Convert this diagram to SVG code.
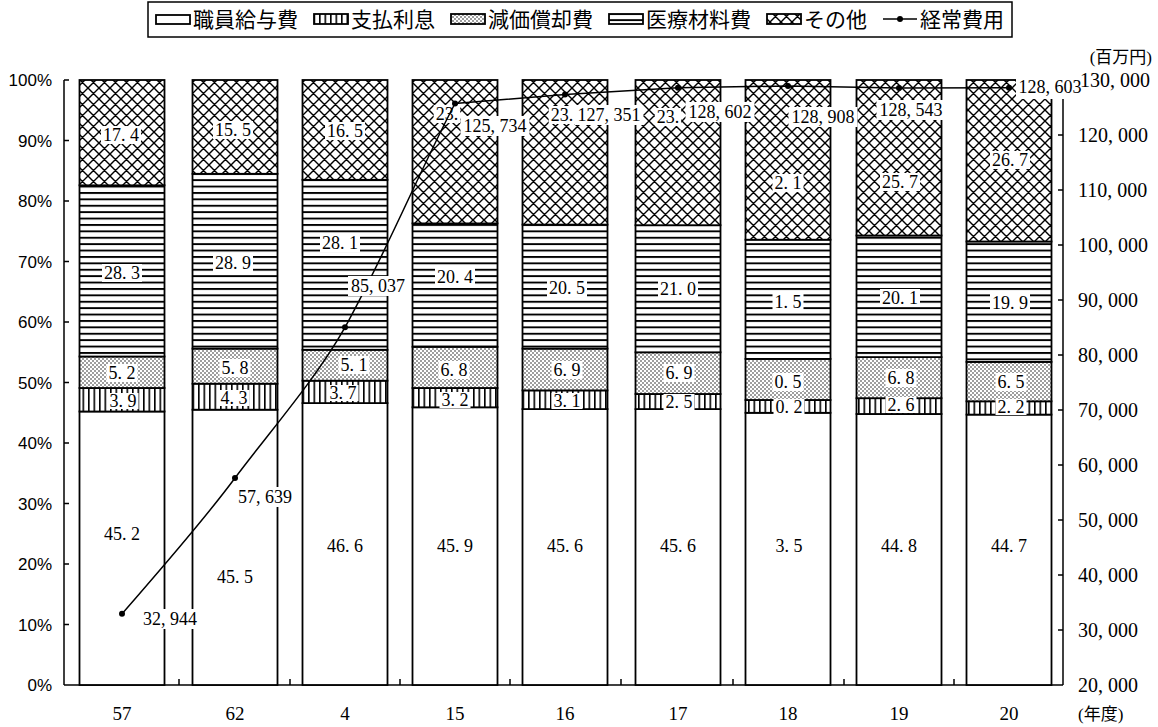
<svg xmlns="http://www.w3.org/2000/svg" width="1158" height="727" viewBox="0 0 1158 727">
<defs>
<style>
.bar{stroke:#000;stroke-width:1.8}
.w{fill:#fff}.v{fill:url(#pv)}.d{fill:url(#pd)}.h{fill:url(#ph)}.c{fill:url(#pc)}
.n{font-family:"Liberation Serif",serif;font-size:18px;text-anchor:middle;fill:#000}
.bg{fill:#fff}
.ax{stroke:#000;stroke-width:1.5;fill:none}
.lt{font-family:"Liberation Sans",sans-serif;font-size:17px;text-anchor:end}
.rt{font-family:"Liberation Serif",serif;font-size:20px}
.xt{font-family:"Liberation Serif",serif;font-size:19px;text-anchor:middle}
.jp{font-family:"Liberation Serif","Noto Sans CJK JP",sans-serif;font-size:21px}
.jp2{font-family:"Liberation Serif","Noto Sans CJK JP",sans-serif;font-size:17px}
</style>
<pattern id="pv" patternUnits="userSpaceOnUse" width="5.5" height="10"><rect width="5.5" height="10" fill="#fff"/><rect x="0" width="1.6" height="10" fill="#000"/></pattern>
<pattern id="ph" patternUnits="userSpaceOnUse" width="10" height="6.4"><rect width="10" height="6.4" fill="#fff"/><rect y="0" width="10" height="1.9" fill="#000"/></pattern>
<pattern id="pd" patternUnits="userSpaceOnUse" width="4" height="4"><rect width="4" height="4" fill="#fff"/><circle cx="1" cy="1" r="0.8" fill="#222"/><circle cx="3" cy="3" r="0.8" fill="#222"/></pattern>
<pattern id="pc" patternUnits="userSpaceOnUse" width="11" height="11"><rect width="11" height="11" fill="#fff"/><path d="M0 0L11 11M11 0L0 11M-1 10L1 12M10 -1L12 1M-1 1L1 -1M10 12L12 10" stroke="#000" stroke-width="1.4"/></pattern>
</defs>
<rect width="1158" height="727" fill="#fff"/>

<g id="legend">
<rect x="148" y="2" width="864" height="35" fill="#fff" stroke="#000" stroke-width="1.5"/>
<rect x="156" y="15" width="34" height="9" class="bar w"/>
<text x="193" y="27" class="jp">職員給与費</text>
<rect x="314" y="14" width="34" height="10" class="bar v"/>
<text x="351" y="27" class="jp">支払利息</text>
<rect x="451" y="14" width="34" height="10" class="bar d"/>
<text x="488" y="27" class="jp">減価償却費</text>
<rect x="609" y="14" width="34" height="10" class="bar h"/>
<text x="646" y="27" class="jp">医療材料費</text>
<rect x="767" y="14" width="34" height="10" class="bar c"/>
<text x="804" y="27" class="jp">その他</text>
<line x1="883" y1="19" x2="917" y2="19" stroke="#000" stroke-width="1.5"/>
<circle cx="900" cy="19" r="3" fill="#000"/>
<text x="920" y="27" class="jp">経常費用</text>
</g>

<g id="axes">
<line x1="64" y1="80" x2="64" y2="685" class="ax"/>
<line x1="64" y1="685" x2="1063" y2="685" class="ax"/>
<line x1="1063" y1="80" x2="1063" y2="685" class="ax"/>
<path class="ax" d="M64 80h5M64 140.5h5M64 201h5M64 261.5h5M64 322h5M64 382.5h5M64 443h5M64 503.5h5M64 564h5M64 624.5h5"/>
<path class="ax" d="M1063 135h-5M1063 190h-5M1063 245h-5M1063 300h-5M1063 355h-5M1063 410h-5M1063 465h-5M1063 520h-5M1063 575h-5M1063 630h-5"/>
<path class="ax" d="M179 685v-6M290 685v-6M400 685v-6M510 685v-6M621 685v-6M733 685v-6M844 685v-6M954 685v-6"/>
<text x="52" y="86" class="lt">100%</text>
<text x="52" y="146.5" class="lt">90%</text>
<text x="52" y="207" class="lt">80%</text>
<text x="52" y="267.5" class="lt">70%</text>
<text x="52" y="328" class="lt">60%</text>
<text x="52" y="388.5" class="lt">50%</text>
<text x="52" y="449" class="lt">40%</text>
<text x="52" y="509.5" class="lt">30%</text>
<text x="52" y="570" class="lt">20%</text>
<text x="52" y="630.5" class="lt">10%</text>
<text x="52" y="691" class="lt">0%</text>
<text x="122" y="720" class="xt">57</text>
<text x="235" y="720" class="xt">62</text>
<text x="345" y="720" class="xt">4</text>
<text x="455" y="720" class="xt">15</text>
<text x="565" y="720" class="xt">16</text>
<text x="678" y="720" class="xt">17</text>
<text x="788" y="720" class="xt">18</text>
<text x="899" y="720" class="xt">19</text>
<text x="1009" y="720" class="xt">20</text>
<text x="1078" y="720" class="jp2">(年度)</text>
<text x="1152" y="63" class="jp2" text-anchor="end">(百万円)</text>
</g>

<g id="bar-57">
<rect x="79.5" y="411.5" width="85" height="273.5" class="bar w"/>
<rect x="79.5" y="388" width="85" height="23.5" class="bar v"/>
<rect x="79.5" y="356.5" width="85" height="31.5" class="bar d"/>
<rect x="79.5" y="185.3" width="85" height="171.2" class="bar h"/>
<rect x="79.5" y="80" width="85" height="105.3" class="bar c"/>
</g>
<g id="bar-62">
<rect x="192.5" y="409.7" width="85" height="275.3" class="bar w"/>
<rect x="192.5" y="383.7" width="85" height="26" class="bar v"/>
<rect x="192.5" y="348.6" width="85" height="35.1" class="bar d"/>
<rect x="192.5" y="173.8" width="85" height="174.8" class="bar h"/>
<rect x="192.5" y="80" width="85" height="93.8" class="bar c"/>
</g>
<g id="bar-4">
<rect x="302.5" y="403.1" width="85" height="281.9" class="bar w"/>
<rect x="302.5" y="380.7" width="85" height="22.4" class="bar v"/>
<rect x="302.5" y="349.8" width="85" height="30.9" class="bar d"/>
<rect x="302.5" y="179.8" width="85" height="170" class="bar h"/>
<rect x="302.5" y="80" width="85" height="99.8" class="bar c"/>
</g>
<g id="bar-15">
<rect x="412.5" y="407.3" width="85" height="277.7" class="bar w"/>
<rect x="412.5" y="388" width="85" height="19.3" class="bar v"/>
<rect x="412.5" y="346.8" width="85" height="41.2" class="bar d"/>
<rect x="412.5" y="223.4" width="85" height="123.4" class="bar h"/>
<rect x="412.5" y="80" width="85" height="143.4" class="bar c"/>
</g>
<g id="bar-16">
<rect x="522.5" y="409.1" width="85" height="275.9" class="bar w"/>
<rect x="522.5" y="390.4" width="85" height="18.7" class="bar v"/>
<rect x="522.5" y="348.6" width="85" height="41.8" class="bar d"/>
<rect x="522.5" y="224.6" width="85" height="124" class="bar h"/>
<rect x="522.5" y="80" width="85" height="144.6" class="bar c"/>
</g>
<g id="bar-17">
<rect x="635.5" y="409.1" width="85" height="275.9" class="bar w"/>
<rect x="635.5" y="394" width="85" height="15.1" class="bar v"/>
<rect x="635.5" y="352.3" width="85" height="41.7" class="bar d"/>
<rect x="635.5" y="225.2" width="85" height="127.1" class="bar h"/>
<rect x="635.5" y="80" width="85" height="145.2" class="bar c"/>
</g>
<g id="bar-18">
<rect x="745.5" y="412.8" width="85" height="272.2" class="bar w"/>
<rect x="745.5" y="400" width="85" height="12.8" class="bar v"/>
<rect x="745.5" y="358.9" width="85" height="41.1" class="bar d"/>
<rect x="745.5" y="239.7" width="85" height="119.2" class="bar h"/>
<rect x="745.5" y="80" width="85" height="159.7" class="bar c"/>
</g>
<g id="bar-19">
<rect x="856.5" y="414" width="85" height="271" class="bar w"/>
<rect x="856.5" y="398.2" width="85" height="15.8" class="bar v"/>
<rect x="856.5" y="357.1" width="85" height="41.1" class="bar d"/>
<rect x="856.5" y="235.5" width="85" height="121.6" class="bar h"/>
<rect x="856.5" y="80" width="85" height="155.5" class="bar c"/>
</g>
<g id="bar-20">
<rect x="966.5" y="414.6" width="85" height="270.4" class="bar w"/>
<rect x="966.5" y="401.3" width="85" height="13.3" class="bar v"/>
<rect x="966.5" y="361.9" width="85" height="39.4" class="bar d"/>
<rect x="966.5" y="241.5" width="85" height="120.4" class="bar h"/>
<rect x="966.5" y="80" width="85" height="161.5" class="bar c"/>
</g>

<g id="bar-labels">
<rect x="101" y="126" width="40" height="18" class="bg"/><text x="121" y="141" class="n">17. 4</text>
<rect x="213" y="121" width="40" height="18" class="bg"/><text x="233" y="136" class="n">15. 5</text>
<rect x="325" y="122" width="40" height="18" class="bg"/><text x="345" y="137" class="n">16. 5</text>
<rect x="433.7" y="105" width="26.5" height="18" class="bg"/><text x="447" y="120" class="n">23.</text>
<rect x="548.7" y="106" width="26.5" height="18" class="bg"/><text x="562" y="121" class="n">23.</text>
<rect x="654.7" y="108" width="26.5" height="18" class="bg"/><text x="668" y="123" class="n">23.</text>
<rect x="772.5" y="174" width="31" height="18" class="bg"/><text x="788" y="189" class="n">2. 1</text>
<rect x="880" y="173" width="40" height="18" class="bg"/><text x="900" y="188" class="n">25. 7</text>
<rect x="990" y="151" width="40" height="18" class="bg"/><text x="1010" y="166" class="n">26. 7</text>

<rect x="102" y="264" width="40" height="18" class="bg"/><text x="122" y="279" class="n">28. 3</text>
<rect x="213" y="254" width="40" height="18" class="bg"/><text x="233" y="269" class="n">28. 9</text>
<rect x="320" y="234" width="40" height="18" class="bg"/><text x="340" y="249" class="n">28. 1</text>
<rect x="435" y="268" width="40" height="18" class="bg"/><text x="455" y="283" class="n">20. 4</text>
<rect x="547" y="279" width="40" height="18" class="bg"/><text x="567" y="294" class="n">20. 5</text>
<rect x="658" y="280" width="40" height="18" class="bg"/><text x="678" y="295" class="n">21. 0</text>
<rect x="772.5" y="293" width="31" height="18" class="bg"/><text x="788" y="308" class="n">1. 5</text>
<rect x="880" y="289" width="40" height="18" class="bg"/><text x="900" y="304" class="n">20. 1</text>
<rect x="990" y="294" width="40" height="18" class="bg"/><text x="1010" y="309" class="n">19. 9</text>

<rect x="106.5" y="364" width="31" height="18" class="bg"/><text x="122" y="379" class="n">5. 2</text>
<rect x="219.5" y="359" width="31" height="18" class="bg"/><text x="235" y="374" class="n">5. 8</text>
<rect x="338.5" y="356" width="31" height="18" class="bg"/><text x="354" y="371" class="n">5. 1</text>
<rect x="438.5" y="361" width="31" height="18" class="bg"/><text x="454" y="376" class="n">6. 8</text>
<rect x="551.5" y="361" width="31" height="18" class="bg"/><text x="567" y="376" class="n">6. 9</text>
<rect x="663.5" y="364" width="31" height="18" class="bg"/><text x="679" y="379" class="n">6. 9</text>
<rect x="772.5" y="373" width="31" height="18" class="bg"/><text x="788" y="388" class="n">0. 5</text>
<rect x="885.5" y="369" width="31" height="18" class="bg"/><text x="901" y="384" class="n">6. 8</text>
<rect x="995.5" y="373" width="31" height="18" class="bg"/><text x="1011" y="388" class="n">6. 5</text>

<rect x="107.5" y="393" width="31" height="16" class="bg"/><text x="123" y="407" class="n">3. 9</text>
<rect x="218.5" y="390" width="31" height="16" class="bg"/><text x="234" y="404" class="n">4. 3</text>
<rect x="327.5" y="385" width="31" height="16" class="bg"/><text x="343" y="399" class="n">3. 7</text>
<rect x="439.5" y="392" width="31" height="16" class="bg"/><text x="455" y="406" class="n">3. 2</text>
<rect x="551.5" y="393" width="31" height="16" class="bg"/><text x="567" y="407" class="n">3. 1</text>
<rect x="663.5" y="394" width="31" height="16" class="bg"/><text x="679" y="408" class="n">2. 5</text>
<rect x="773.5" y="399" width="31" height="16" class="bg"/><text x="789" y="413" class="n">0. 2</text>
<rect x="885.5" y="397" width="31" height="16" class="bg"/><text x="901" y="411" class="n">2. 6</text>
<rect x="995.5" y="399" width="31" height="16" class="bg"/><text x="1011" y="413" class="n">2. 2</text>

<text x="122" y="540" class="n">45. 2</text>
<text x="235" y="583" class="n">45. 5</text>
<text x="345" y="552" class="n">46. 6</text>
<text x="455" y="552" class="n">45. 9</text>
<text x="565" y="552" class="n">45. 6</text>
<text x="678" y="552" class="n">45. 6</text>
<text x="789" y="552" class="n">3. 5</text>
<text x="899" y="552" class="n">44. 8</text>
<text x="1009" y="552" class="n">44. 7</text>
</g>

<g id="connectors">
<path d="M122 613.8C160 570 200 525 235 478C275 425 315 380 345 327.3C385 255 420 170 455 103.5L565 94.6L678 87.7L788 86L899 88L1009 87.7" fill="none" stroke="#000" stroke-width="1.5"/>
<g fill="#000">
<circle cx="122" cy="613.8" r="3"/><circle cx="235" cy="478" r="3"/><circle cx="345" cy="327.3" r="3"/>
<circle cx="455" cy="103.5" r="3"/><circle cx="565" cy="94.6" r="3"/><circle cx="678" cy="87.7" r="3"/>
<circle cx="788" cy="86" r="3"/><circle cx="899" cy="88" r="3"/><circle cx="1009" cy="87.7" r="3"/>
</g>
</g>

<g id="line-labels">
<rect x="140" y="609" width="60" height="20" class="bg"/><text x="170" y="625" class="n">32, 944</text>
<rect x="235" y="487" width="60" height="20" class="bg"/><text x="265" y="503" class="n">57, 639</text>
<rect x="348" y="276" width="60" height="20" class="bg"/><text x="378" y="292" class="n">85, 037</text>
<rect x="460.5" y="116" width="69" height="20" class="bg"/><text x="495" y="132" class="n">125, 734</text>
<rect x="574.5" y="105" width="69" height="20" class="bg"/><text x="609" y="121" class="n">127, 351</text>
<rect x="685.5" y="102" width="69" height="20" class="bg"/><text x="720" y="118" class="n">128, 602</text>
<rect x="788.5" y="107" width="69" height="20" class="bg"/><text x="823" y="123" class="n">128, 908</text>
<rect x="876.5" y="100" width="69" height="20" class="bg"/><text x="911" y="116" class="n">128, 543</text>
<rect x="1016" y="77" width="66" height="22" class="bg"/><text x="1050" y="93" class="n">128, 603</text>
</g>

<g id="right-axis-labels" class="rt">
<text x="1080" y="87">130, 000</text>
<text x="1078" y="142">120, 000</text>
<text x="1078" y="197">110, 000</text>
<text x="1078" y="252">100, 000</text>
<text x="1078" y="307">90, 000</text>
<text x="1078" y="362">80, 000</text>
<text x="1078" y="417">70, 000</text>
<text x="1078" y="472">60, 000</text>
<text x="1078" y="527">50, 000</text>
<text x="1078" y="582">40, 000</text>
<text x="1078" y="637">30, 000</text>
<text x="1078" y="692">20, 000</text>
</g>
</svg>
